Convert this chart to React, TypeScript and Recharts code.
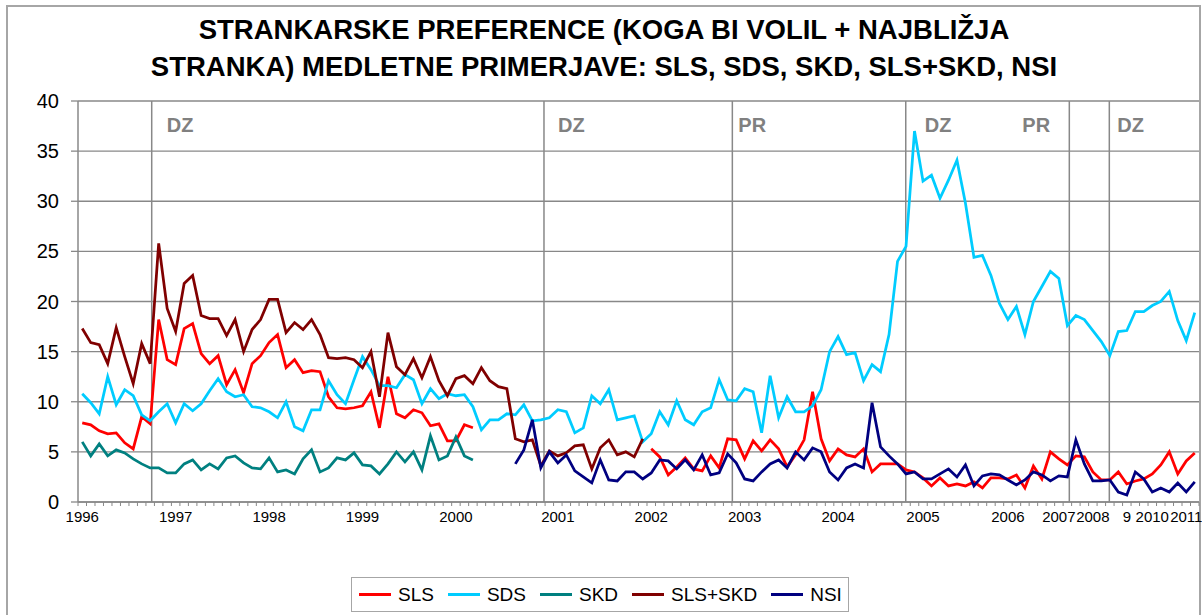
import { LineChart, Line, XAxis, YAxis, CartesianGrid, ReferenceLine } from 'recharts';

// survey waves per year (no survey in summer break, fewer waves after 2006)
const pointsPerYear = [11, 11, 11, 11, 12, 11, 11, 11, 10, 10, 6, 4, 4, 3, 4, 2];
const yearLabels = ['1996', '1997', '1998', '1999', '2000', '2001', '2002', '2003', '2004', '2005', '2006', '2007', '2008', '9', '2010', '2011'];

const sls = [
  7.9, 7.7, 7.1, 6.8, 6.9, 5.9, 5.3, 8.5, 7.8, 18.2,
  14.2, 13.7, 17.3, 17.8, 14.8, 13.8, 14.6, 11.7, 13.2, 10.9,
  13.8, 14.6, 15.9, 16.7, 13.4, 14.2, 12.9, 13.1, 13.0, 10.5,
  9.4, 9.3, 9.4, 9.6, 11.0, 7.4, 12.5, 8.8, 8.4, 9.2,
  8.9, 7.6, 7.8, 6.1, 6.1, 7.7, 7.4, null, null, null,
  null, null, null, null, null, null, null, null, null, null,
  null, null, null, null, null, null, null, 5.3, 4.5, 2.7,
  3.5, 4.4, 3.3, 3.1, 4.6, 3.4, 6.3, 6.2, 4.3, 6.1,
  5.1, 6.2, 5.3, 3.5, 4.7, 6.2, 11.0, 6.3, 4.1, 5.3,
  4.7, 4.5, 5.3, 3.0, 3.8, 3.8, 3.8, 3.2, 3.0, 2.4,
  1.6, 2.4, 1.6, 1.8, 1.6, 2.0, 1.4, 2.4, 2.4, 2.3,
  2.7, 1.4, 3.6, 2.3, 5.0, 4.3, 3.7, 4.6, 4.5, 3.0,
  2.2, 2.2, 3.0, 1.8, 2.1, 2.3, 2.8, 3.7, 5.0, 2.8,
  4.1, 4.9,
];

const sds = [
  10.8, 9.9, 8.8, 12.5, 9.7, 11.2, 10.6, 8.7, 8.1, 9.0,
  9.8, 7.9, 9.8, 9.1, 9.8, 11.1, 12.3, 11.0, 10.5, 10.7,
  9.5, 9.4, 9.0, 8.4, 10.0, 7.5, 7.1, 9.2, 9.2, 12.1,
  10.7, 9.8, 12.2, 14.5, 13.2, 11.6, 11.6, 11.4, 12.7, 12.2,
  9.8, 11.3, 10.3, 10.8, 10.6, 10.7, 9.5, 7.2, 8.2, 8.2,
  8.8, 8.7, 9.7, 8.1, 8.2, 8.4, 9.2, 9.0, 6.9, 7.4,
  10.6, 9.8, 11.2, 8.2, 8.4, 8.6, 6.0, 6.8, 9.0, 7.7,
  10.1, 8.2, 7.7, 9.0, 9.4, 12.2, 10.2, 10.1, 11.3, 11.0,
  6.9, 12.6, 8.4, 10.5, 9.0, 9.0, 9.6, 11.2, 15.0, 16.5,
  14.7, 14.9, 12.1, 13.7, 13.0, 16.7, 24.0, 25.5, 37.0, 32.0,
  32.6, 30.3, 32.1, 34.1, 29.8, 24.4, 24.6, 22.6, 19.8, 18.2,
  19.5, 16.7, 20.0, 21.5, 23.0, 22.3, 17.6, 18.6, 18.2, 17.1,
  16.0, 14.6, 17.0, 17.1, 19.0, 19.0, 19.6, 20.0, 21.0, 18.1,
  16.1, 18.9,
];

const skd = [
  6.0, 4.6, 5.8, 4.6, 5.2, 4.9, 4.3, 3.8, 3.4, 3.4,
  2.9, 2.9, 3.8, 4.2, 3.2, 3.8, 3.3, 4.4, 4.6, 3.9,
  3.4, 3.3, 4.4, 3.0, 3.2, 2.8, 4.3, 5.2, 3.0, 3.4,
  4.4, 4.2, 4.9, 3.7, 3.6, 2.8, 3.8, 5.0, 4.0, 5.0,
  3.2, 6.6, 4.2, 4.6, 6.5, 4.6, 4.2,
];

const slsSkd = [
  17.3, 15.9, 15.7, 13.8, 17.4, 14.5, 11.8, 15.8, 13.8, 25.8,
  19.3, 17.0, 21.8, 22.6, 18.6, 18.3, 18.3, 16.6, 18.2, 15.0,
  17.2, 18.2, 20.2, 20.2, 16.9, 17.9, 17.2, 18.2, 16.7, 14.4,
  14.3, 14.4, 14.2, 13.4, 15.0, 10.5, 16.9, 13.5, 12.7, 14.3,
  12.4, 14.5, 12.1, 10.6, 12.3, 12.6, 11.8, 13.4, 12.1, 11.5,
  11.3, 6.3, 6.0, 6.2, 3.6, 5.1, 4.6, 4.9, 5.6, 5.7,
  3.3, 5.4, 6.2, 4.7, 5.0, 4.5, 6.3,
];

// NSI is measured from the 52nd wave on
const nsiStart = 51;
const nsi = [
  3.8, 5.2, 8.2, 3.4, 5.0, 3.9, 4.7, 3.1, 2.5,
  1.9, 4.2, 2.2, 2.1, 3.0, 3.0, 2.3, 2.9, 4.2, 4.1,
  3.3, 4.2, 3.2, 4.7, 2.7, 2.9, 4.8, 3.9, 2.3, 2.1,
  3.0, 3.8, 4.2, 3.4, 5.0, 4.2, 5.4, 5.0, 3.0, 2.2,
  3.4, 3.8, 3.4, 9.9, 5.5, 4.6, 3.8, 2.8, 3.0, 2.3,
  2.3, 2.8, 3.3, 2.5, 3.7, 1.6, 2.6, 2.8, 2.7, 2.2,
  1.7, 2.2, 3.0, 2.7, 2.1, 2.6, 2.5, 6.2, 3.8, 2.1,
  2.1, 2.2, 1.0, 0.7, 3.0, 2.3, 1.0, 1.4, 1.0, 1.9,
  1.0, 2.0,
];

// elections: DZ = parliamentary, PR = presidential (position in wave units)
const electionAt = [8.18, 54.37, 76.55, 96.97, 116.23, 120.94];
const electionType = ['DZ', 'DZ', 'PR', 'DZ', 'PR', 'DZ'];
const electionTextDx = [15, 14, 6, 19, -47, 8];

const yTicks = [0, 5, 10, 15, 20, 25, 30, 35, 40];

const series = [
  { key: 'sls', name: 'SLS', color: '#ff0000', start: 0, values: sls },
  { key: 'sds', name: 'SDS', color: '#00ccff', start: 0, values: sds },
  { key: 'skd', name: 'SKD', color: '#008080', start: 0, values: skd },
  { key: 'slsSkd', name: 'SLS+SKD', color: '#800000', start: 0, values: slsSkd },
  { key: 'nsi', name: 'NSI', color: '#000080', start: nsiStart, values: nsi },
];

const categories: string[] = [];
pointsPerYear.forEach((n, y) => {
  for (let k = 0; k < n; k++) categories.push(k === 0 ? yearLabels[y] : '');
});
const N = categories.length;

const data = categories.map((period, i) => {
  const row: Record<string, any> = { i, period };
  series.forEach(s => {
    const v = s.values[i - s.start];
    row[s.key] = i >= s.start && v !== undefined ? v : null;
  });
  return row;
});

const W = 1202;
const H = 615;
const MARGIN = { top: 101, right: 3, bottom: 83, left: 8 };
const Y_AXIS_W = 70;
const GRID = '#888888';
const FONT = '"Liberation Sans", Arial, sans-serif';
const halfStep = (W - MARGIN.left - MARGIN.right - Y_AXIS_W) / N / 2;
const boundaries = Array.from({ length: N + 1 }, (_, k) => k - 0.5);

function PeriodTick(props: any) {
  const { x, y, payload } = props;
  const idx = Math.round(payload.value + 0.5);
  const label = idx < N ? categories[idx] : '';
  return (
    <g>
      <line x1={x} y1={y} x2={x} y2={y + 4} stroke={GRID} strokeWidth={1} />
      {label && (
        <text x={x + halfStep} y={y + 20} textAnchor="middle" fontSize={15} fill="#000">
          {label}
        </text>
      )}
    </g>
  );
}

function ElectionLabel(props: any) {
  const { viewBox, text, dx } = props;
  if (!viewBox) return null;
  return (
    <text x={viewBox.x + dx} y={viewBox.y + 31} fontSize={20} fontWeight="bold" fill="#808080">
      {text}
    </text>
  );
}

export default function App() {
  return (
    <div style={{ position: 'relative', width: W, height: H, fontFamily: FONT, overflow: 'hidden' }}>
      <style>{'body{margin:0}'}</style>
      <div
        style={{
          position: 'absolute', left: 6, top: 5, width: 1195, height: 612,
          border: '2px solid #a6a6a6', boxSizing: 'border-box',
        }}
      />
      <div
        style={{
          position: 'absolute', left: 3, top: 11, width: W, textAlign: 'center',
          fontWeight: 'bold', fontSize: 27.5, lineHeight: '37px', color: '#000',
        }}
      >
        STRANKARSKE PREFERENCE (KOGA BI VOLIL + NAJBLIŽJA
        <br />
        STRANKA) MEDLETNE PRIMERJAVE: SLS, SDS, SKD, SLS+SKD, NSI
      </div>
      <div style={{ position: 'absolute', left: 0, top: 0 }}>
        <LineChart width={W} height={H} data={data} margin={MARGIN}>
          <CartesianGrid vertical={false} stroke={GRID} strokeWidth={1.3} />
          <XAxis
            dataKey="i"
            type="number"
            domain={[-0.5, N - 0.5]}
            ticks={boundaries}
            interval={0}
            height={30}
            tickLine={false}
            tickSize={0}
            tickMargin={0}
            tick={<PeriodTick />}
            axisLine={{ stroke: GRID, strokeWidth: 1.5 }}
          />
          <YAxis
            width={Y_AXIS_W}
            domain={[0, 40]}
            ticks={yTicks}
            interval={0}
            tickSize={7}
            tickMargin={12}
            tickLine={{ stroke: GRID, strokeWidth: 1.3 }}
            axisLine={{ stroke: GRID, strokeWidth: 1.5 }}
            tick={{ fontSize: 20, fill: '#000' }}
          />
          {electionAt.map((at, k) => (
            <ReferenceLine
              key={k}
              x={at}
              stroke={GRID}
              strokeWidth={1.5}
              label={<ElectionLabel text={electionType[k]} dx={electionTextDx[k]} />}
            />
          ))}
          {series.map(s => (
            <Line
              key={s.key}
              dataKey={s.key}
              name={s.name}
              stroke={s.color}
              strokeWidth={2.75}
              dot={false}
              activeDot={false}
              type="linear"
              isAnimationActive={false}
            />
          ))}
        </LineChart>
      </div>
      <div
        style={{
          position: 'absolute', left: 351, top: 577, width: 498, height: 35,
          border: '1.5px solid #a6a6a6', boxSizing: 'border-box',
          display: 'flex', alignItems: 'center', paddingLeft: 7, fontSize: 19, color: '#000',
        }}
      >
        {series.map(s => (
          <div key={s.key} style={{ display: 'flex', alignItems: 'center', marginRight: 14 }}>
            <span style={{ display: 'inline-block', width: 32, height: 3, background: s.color, marginRight: 7 }} />
            <span>{s.name}</span>
          </div>
        ))}
      </div>
    </div>
  );
}
